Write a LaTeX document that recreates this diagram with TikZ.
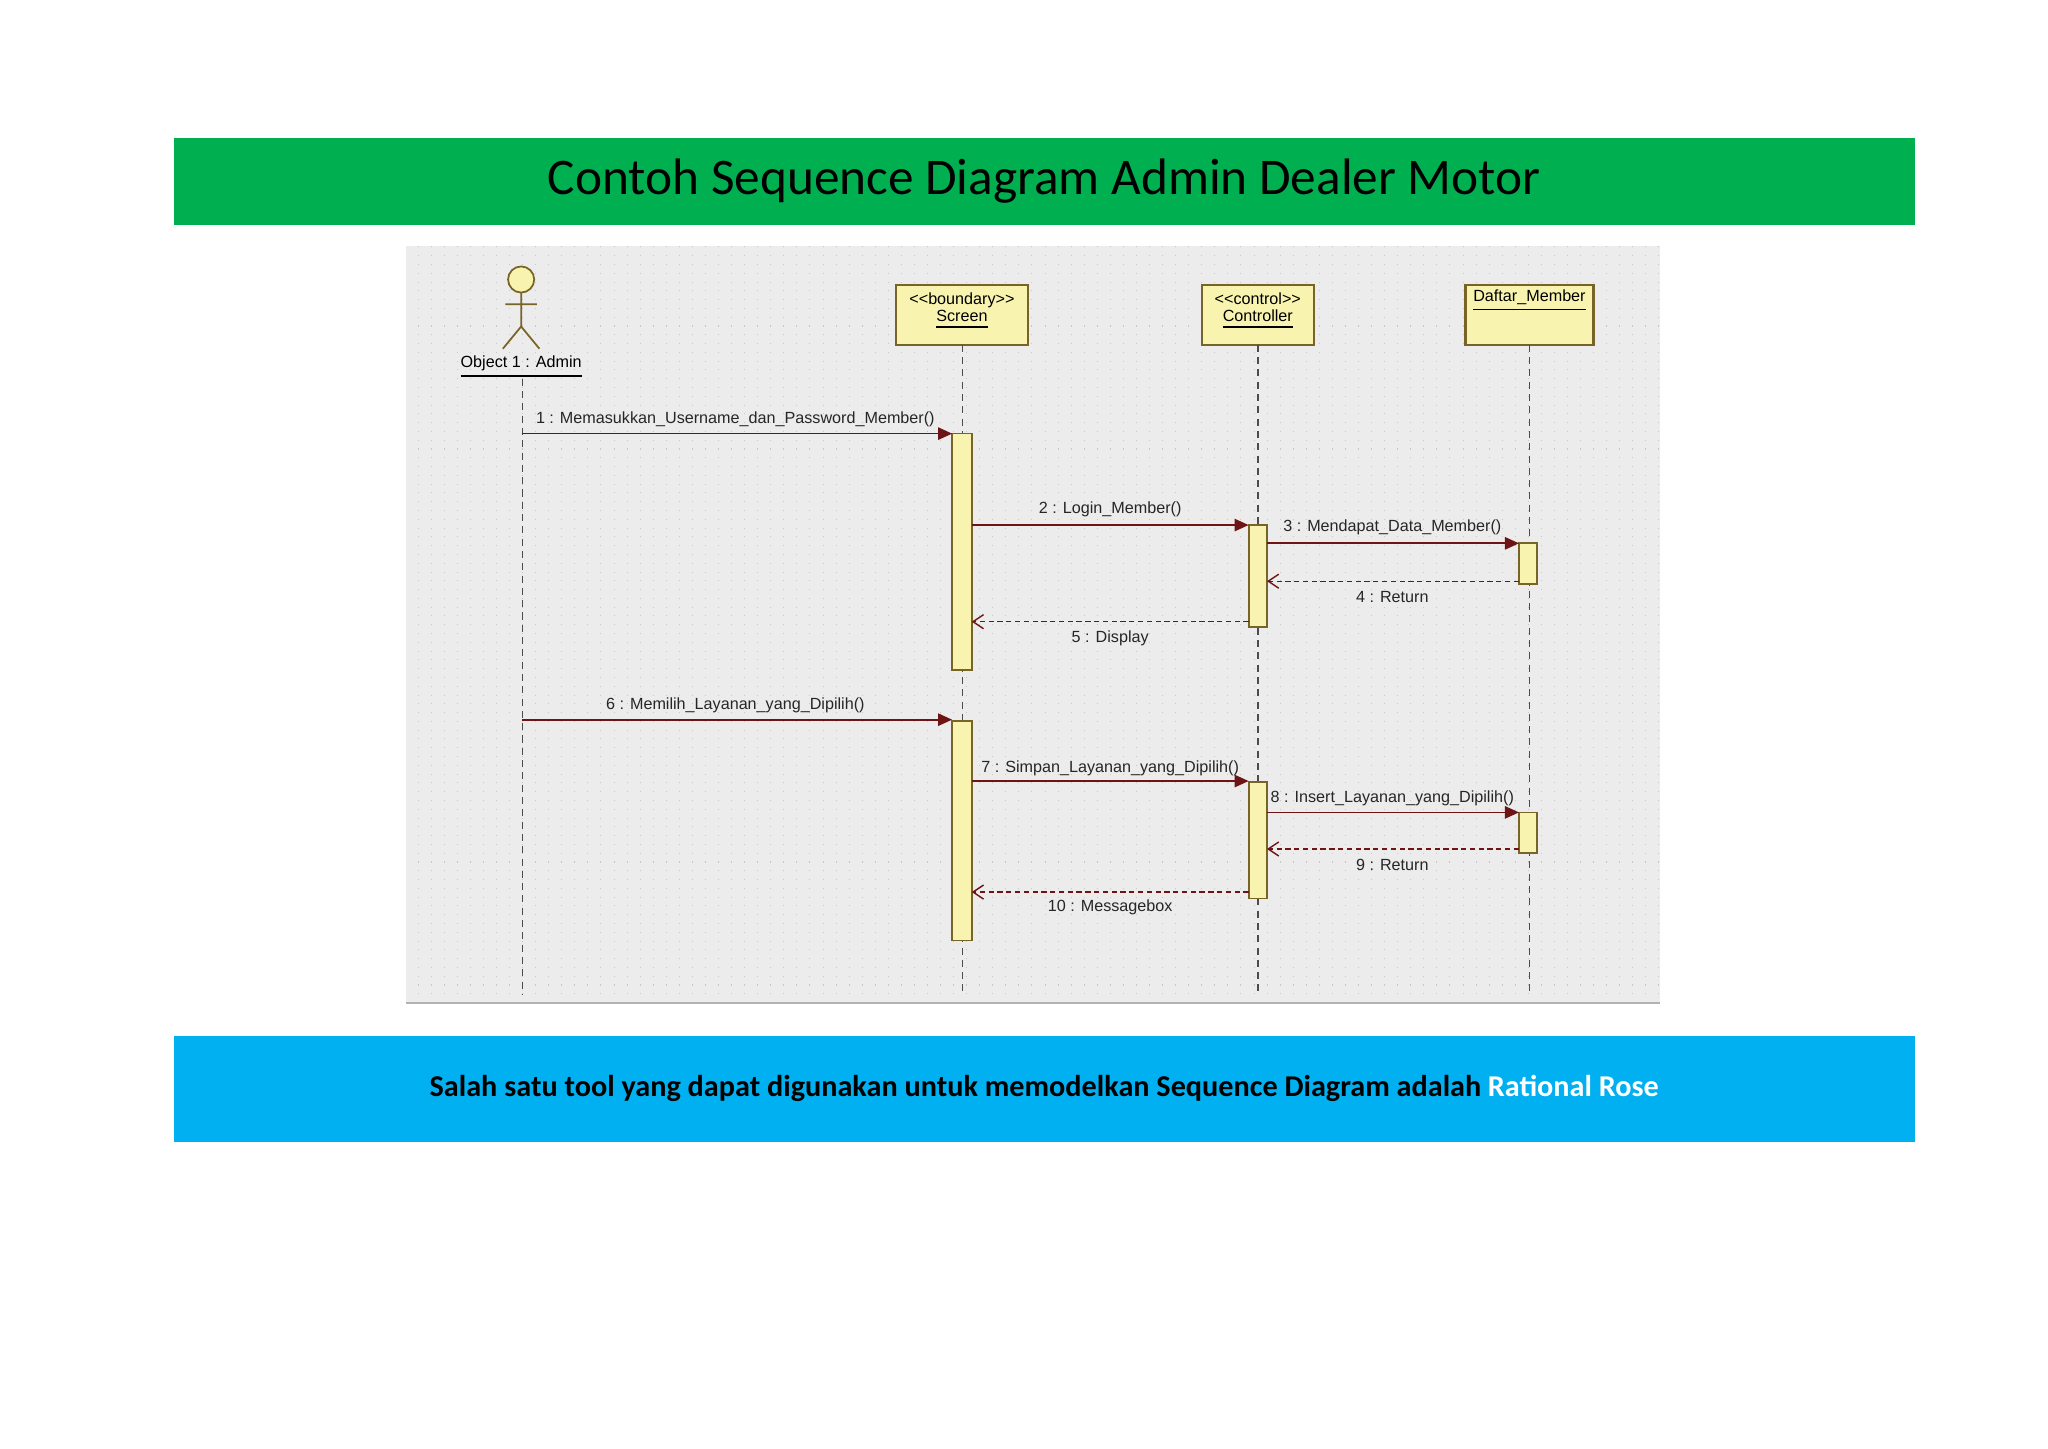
\documentclass[tikz,border=0pt]{standalone}
\usepackage{fontspec}
\setmainfont{Liberation Sans}
\newfontfamily\calfont{Carlito}
\usetikzlibrary{arrows.meta}
\definecolor{gbar}{RGB}{0,176,80}
\definecolor{bbar}{RGB}{0,176,240}
\definecolor{obj}{RGB}{248,244,176}
\definecolor{brd}{RGB}{120,100,40}
\definecolor{msg}{RGB}{110,20,20}
\definecolor{bg}{RGB}{236,236,236}
\begin{document}
\begin{tikzpicture}[x=0.01306cm,y=-0.01306cm,
  act/.style={draw=brd,fill=obj,line width=0.5pt},
  life/.style={draw=black!70,line width=0.4pt,dash pattern=on 2pt off 1.5pt},
  call/.style={draw=msg,line width=0.5pt,-{Triangle[length=4pt,width=3.5pt]}},
  ret/.style={draw=msg,line width=0.4pt,dash pattern=on 1.5pt off 1pt,-{Straight Barb[length=3pt,width=4pt]}},
  lbl/.style={font=\fontsize{4.6}{5.5}\selectfont,inner sep=0.5pt,text=black!85},
  olbl/.style={font=\fontsize{4.6}{5.5}\selectfont,align=center}]
\useasboundingbox (0,0) rectangle (1568,1108.7);
\fill[white] (0,0) rectangle (1568,1108.7);
% title bar
\fill[gbar] (133,106) rectangle (1466,172);
\node[font=\calfont\fontsize{14.6}{17}\selectfont] (title) at (799.5,139) {Contoh Sequence Diagram Admin Dealer Motor};
% diagram background
\fill[bg] (311,188) rectangle (1271,768);
\draw[black!22,line width=0.2pt,dash pattern=on 0.3pt off 2.2pt] (311,188) grid[step=10] (1271,768);
\draw[black!30,line width=0.8pt] (311,768) -- (1271,768);
% actor
\draw[brd,fill=obj,line width=0.5pt] (399,214) circle (10);
\draw[brd,line width=0.5pt] (399,224) -- (399,250) (387,233) -- (411,233) (385,267) -- (399,250) -- (413,267);
\node[olbl] (admin) at (399,281) {\underline{Object 1 : Admin}};
% objects
\draw[act,line width=0.6pt] (686,218) rectangle (787,264);
\draw[act,line width=0.6pt] (920,218) rectangle (1006,264);
\draw[act,line width=0.6pt] (1122,218) rectangle (1220,264);
\node[olbl] (scr) at (736.5,238) {{<}{<}boundary{>}{>}\\[-0.5pt]\underline{Screen}};
\node[olbl] (ctl) at (963,238) {{<}{<}control{>}{>}\\[-0.5pt]\underline{Controller}};
\node[olbl] (dm) at (1171,230) {\underline{Daftar\_Member}};
% lifelines
\draw[life] (400,290) -- (400,762);
\draw[life] (737,264) -- (737,762);
\draw[life] (963,264) -- (963,762);
\draw[life] (1171,264) -- (1171,762);
% activations
\draw[act] (729,332) rectangle (744,513);
\draw[act] (729,552) rectangle (744,720);
\draw[act] (956,402) rectangle (970,480);
\draw[act] (956,599) rectangle (970,688);
\draw[act] (1163,416) rectangle (1177,447);
\draw[act] (1163,622) rectangle (1177,653);
% messages
\draw[call] (400,332) -- (729,332);
\node[lbl] at (563,321) {1 : Memasukkan\_Username\_dan\_Password\_Member()};
\draw[call] (744,402) -- (956,402);
\node[lbl] at (850,390) {2 : Login\_Member()};
\draw[call] (970,416) -- (1163,416);
\node[lbl] at (1066,404) {3 : Mendapat\_Data\_Member()};
\draw[ret] (1163,445) -- (970,445);
\node[lbl] at (1066,457) {4 : Return};
\draw[ret] (956,476) -- (744,476);
\node[lbl] at (850,489) {5 : Display};
\draw[call] (400,551) -- (729,551);
\node[lbl] at (563,540) {6 : Memilih\_Layanan\_yang\_Dipilih()};
\draw[call] (744,598) -- (956,598);
\node[lbl] at (850,588) {7 : Simpan\_Layanan\_yang\_Dipilih()};
\draw[call] (970,622) -- (1163,622);
\node[lbl] at (1066,611) {8 : Insert\_Layanan\_yang\_Dipilih()};
\draw[ret] (1163,650) -- (970,650);
\node[lbl] at (1066,662) {9 : Return};
\draw[ret] (956,683) -- (744,683);
\node[lbl] at (850,695) {10 : Messagebox};
% bottom bar
\fill[bbar] (133,793) rectangle (1466,874);
\node[font=\calfont\bfseries\fontsize{8.6}{10}\selectfont] (note) at (799.5,833) {Salah satu tool yang dapat digunakan untuk memodelkan Sequence Diagram adalah \textcolor{white}{Rational Rose}};
\end{tikzpicture}
\end{document}
